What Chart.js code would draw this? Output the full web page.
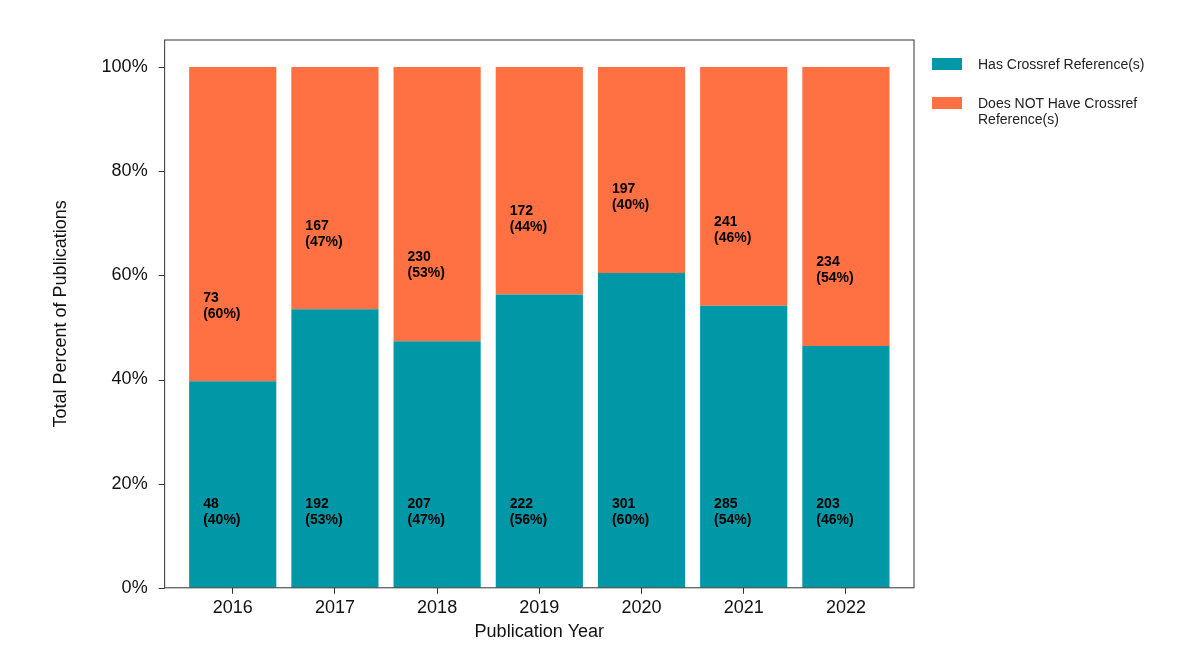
<!DOCTYPE html>
<html>
<head>
<meta charset="utf-8">
<script src="https://cdn.jsdelivr.net/npm/chart.js@4"></script>
<style>
  body { margin: 0; background: #fff; font-family: Arial, "Liberation Sans", sans-serif; }
  #wrap { position: relative; width: 1200px; height: 664px; }
  .legend { position: absolute; left: 932px; font-size: 14px; color: #222; line-height: 16px; }
  .sw { position: absolute; left: 0; width: 30px; height: 12px; }
  .txt { position: absolute; left: 46px; white-space: nowrap; }
</style>
</head>
<body>
<div id="wrap">
  <canvas id="c" width="1200" height="664"></canvas>
  <div class="legend" style="top:56px"><div class="sw" style="background:#0097a7;top:2px"></div><div class="txt">Has Crossref Reference(s)</div></div>
  <div class="legend" style="top:95px"><div class="sw" style="background:#ff7043;top:2px"></div><div class="txt">Does NOT Have Crossref<br>Reference(s)</div></div>
</div>
<script>
const years = ["2016", "2017", "2018", "2019", "2020", "2021", "2022"];
const hasRefs = [48, 192, 207, 222, 301, 285, 203];
const noRefs = [73, 167, 230, 172, 197, 241, 234];
const yTicks = [0, 20, 40, 60, 80, 100];

const pct = (a, b) => a.map((v, i) => (100 * v) / (v + b[i]));
const hasPct = pct(hasRefs, noRefs);
const noPct = pct(noRefs, hasRefs);

const EXPAND = 17;

// box round the plot, a little wider than the bars' area, plus y tick marks
const frame = {
  id: "frame",
  afterDraw(chart) {
    const { ctx, chartArea: a } = chart;
    const left = a.left - EXPAND;
    ctx.save();
    ctx.strokeStyle = "#333";
    ctx.lineWidth = 1;
    ctx.strokeRect(left, a.top, a.right + EXPAND - left, a.bottom - a.top);
    ctx.beginPath();
    yTicks.forEach((v) => {
      const py = Math.round(chart.scales.y.getPixelForValue(v)) + 0.5;
      ctx.moveTo(left - 6, py);
      ctx.lineTo(left, py);
    });
    ctx.stroke();
    ctx.restore();
  },
};

const labels = {
  id: "labels",
  afterDatasetsDraw(chart) {
    const { ctx } = chart;
    const y = chart.scales.y;
    ctx.save();
    ctx.font = "bold 14px Arial, 'Liberation Sans'";
    ctx.fillStyle = "#000";
    ctx.textAlign = "left";
    ctx.textBaseline = "middle";
    const counts = [hasRefs, noRefs];
    chart.data.datasets.forEach((ds, di) => {
      chart.getDatasetMeta(di).data.forEach((bar, i) => {
        const start = di === 0 ? 0 : hasPct[i];
        const yc = y.getPixelForValue(start + 14.5);
        const x = bar.x - bar.width / 2 + 14;
        ctx.fillText(String(counts[di][i]), x, yc - 8);
        ctx.fillText("(" + Math.round(ds.data[i]) + "%)", x, yc + 8);
      });
    });
    ctx.restore();
  },
};

new Chart(document.getElementById("c"), {
  type: "bar",
  data: {
    labels: years,
    datasets: [
      { label: "Has Crossref Reference(s)", data: hasPct, backgroundColor: "#0097a7" },
      { label: "Does NOT Have Crossref Reference(s)", data: noPct, backgroundColor: "#ff7043" },
    ],
  },
  options: {
    responsive: false,
    animation: false,
    layout: { padding: { top: 40, right: 303, bottom: 17, left: 46 } },
    datasets: { bar: { barPercentage: 0.853, categoryPercentage: 1 } },
    plugins: { legend: { display: false }, tooltip: { enabled: false } },
    scales: {
      x: {
        stacked: true,
        grid: { display: true, drawOnChartArea: false, tickLength: 6, color: "#333", offset: false },
        border: { display: false },
        ticks: { color: "#111", font: { size: 18, family: "Arial" } },
        title: { display: true, text: "Publication Year", color: "#111", font: { size: 18, family: "Arial" }, padding: { top: 0 } },
      },
      y: {
        stacked: true,
        min: 0,
        max: 105.2,
        afterBuildTicks(s) { s.ticks = yTicks.map((v) => ({ value: v })); },
        grid: { display: false },
        border: { display: false },
        ticks: { color: "#111", padding: 26, font: { size: 18, family: "Arial" }, callback: (v) => v + "%" },
        title: { display: true, text: "Total Percent of Publications", color: "#111", font: { size: 18, family: "Arial" } },
      },
    },
  },
  plugins: [frame, labels],
});
</script>
</body>
</html>
